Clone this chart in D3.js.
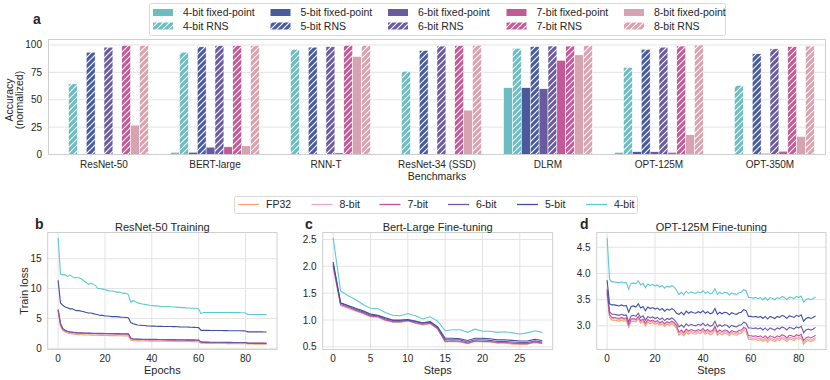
<!DOCTYPE html>
<html>
<head>
<meta charset="utf-8">
<script src="https://cdn.jsdelivr.net/npm/d3@7"></script>
<style>
	body { margin: 0; background: #fff; }
	svg text { font-family: "Liberation Sans", Arial, sans-serif; fill: #262626; }
</style>
</head>
<body>
<svg id="chart" width="830" height="380"></svg>
<script>
// ---------------- panel a data ----------------
var benchmarks = ["ResNet-50", "BERT-large", "RNN-T", "ResNet-34 (SSD)", "DLRM", "OPT-125M", "OPT-350M"];
var bitNames = ["4-bit", "5-bit", "6-bit", "7-bit", "8-bit"];
var fixed4 = [0, 2, 0, 0, 61, 2, 0];
var rns4   = [64.5, 93.4, 96, 76, 97, 79.5, 63];
var fixed5 = [0, 2, 0, 0, 61, 2.5, 0];
var rns5   = [93.4, 98.3, 98, 95, 98.5, 96, 92];
var fixed6 = [0, 6.7, 0, 0, 60, 2.5, 1];
var rns6   = [98, 99.4, 98.4, 99, 99, 98, 96.5];
var fixed7 = [0, 7, 1.5, 0, 86, 2, 3];
var rns7   = [99.7, 99.4, 99.7, 99.5, 99, 99, 98.5];
var fixed8 = [26.8, 7.9, 89.5, 40.5, 91, 18, 16.5];
var rns8   = [99.7, 99.7, 99.7, 99.8, 99.5, 100, 99];
var accTicks = [0, 25, 50, 75, 100];

// ---------------- panel b data (ResNet-50 training, 90 epochs) ----------------
var resnetFP32 = [6.2,3.7,2.95,2.7,2.55,2.45,2.4,2.35,2.31,2.28,
	2.26,2.24,2.22,2.21,2.2,2.19,2.18,2.17,2.16,2.15,
	2.14,2.13,2.12,2.12,2.11,2.1,2.1,2.09,2.08,2.08,
	2.07,1.35,1.27,1.25,1.24,1.23,1.22,1.21,1.21,1.2,
	1.2,1.19,1.19,1.18,1.18,1.17,1.17,1.16,1.16,1.15,
	1.15,1.14,1.14,1.13,1.13,1.12,1.12,1.11,1.11,1.1,
	1.09,0.86,0.83,0.82,0.82,0.81,0.81,0.8,0.8,0.8,
	0.79,0.79,0.78,0.78,0.78,0.77,0.77,0.77,0.76,0.76,
	0.75,0.7,0.7,0.7,0.69,0.69,0.69,0.69,0.69,0.68];
var resnet8 = [6.3,3.9,3.1,2.88,2.74,2.65,2.6,2.55,2.52,2.5,
	2.48,2.46,2.45,2.44,2.43,2.42,2.41,2.4,2.4,2.39,
	2.38,2.38,2.37,2.37,2.36,2.35,2.35,2.34,2.34,2.33,
	2.32,1.6,1.49,1.46,1.44,1.43,1.42,1.41,1.41,1.4,
	1.4,1.39,1.39,1.38,1.38,1.37,1.37,1.36,1.36,1.35,
	1.35,1.34,1.34,1.33,1.33,1.32,1.32,1.31,1.31,1.3,
	1.29,0.99,0.96,0.95,0.95,0.94,0.94,0.93,0.93,0.93,
	0.92,0.92,0.91,0.91,0.91,0.9,0.9,0.9,0.89,0.89,
	0.88,0.8,0.8,0.8,0.79,0.79,0.79,0.79,0.79,0.78];
var resnet7 = [6.4,4.0,3.2,2.95,2.8,2.7,2.65,2.6,2.57,2.55,
	2.53,2.51,2.5,2.49,2.48,2.47,2.46,2.45,2.45,2.44,
	2.43,2.43,2.42,2.42,2.41,2.4,2.4,2.39,2.39,2.38,
	2.37,1.65,1.53,1.5,1.48,1.47,1.46,1.45,1.45,1.44,
	1.44,1.43,1.43,1.42,1.42,1.41,1.41,1.4,1.4,1.39,
	1.39,1.38,1.38,1.37,1.37,1.36,1.36,1.35,1.35,1.34,
	1.33,1.03,0.99,0.98,0.98,0.97,0.97,0.96,0.96,0.96,
	0.95,0.95,0.94,0.94,0.94,0.93,0.93,0.93,0.92,0.92,
	0.91,0.83,0.83,0.83,0.82,0.82,0.82,0.82,0.82,0.81];
var resnet6 = [6.5,4.2,3.3,3.0,2.85,2.75,2.7,2.65,2.62,2.6,
	2.58,2.56,2.55,2.54,2.53,2.52,2.51,2.5,2.5,2.49,
	2.48,2.48,2.47,2.47,2.46,2.45,2.45,2.44,2.44,2.43,
	2.42,1.7,1.58,1.55,1.53,1.52,1.51,1.5,1.5,1.49,
	1.49,1.48,1.48,1.47,1.47,1.46,1.46,1.45,1.45,1.44,
	1.44,1.43,1.43,1.42,1.42,1.41,1.41,1.4,1.4,1.39,
	1.38,1.07,1.03,1.02,1.02,1.01,1.01,1.0,1.0,1.0,
	0.99,0.99,0.98,0.98,0.98,0.97,0.97,0.97,0.96,0.96,
	0.95,0.86,0.86,0.86,0.85,0.85,0.85,0.85,0.85,0.84];
var resnet5 = [11.4,7.6,7.2,6.9,6.8,6.6,6.6,6.4,6.3,6.3,
	6.2,6.1,6.0,5.9,5.9,5.8,5.7,5.6,5.5,5.5,
	5.4,5.4,5.35,5.3,5.3,5.3,5.25,5.2,5.2,5.15,
	5.1,4.3,4.1,4.0,3.9,3.85,3.8,3.8,3.75,3.72,
	3.7,3.7,3.68,3.67,3.66,3.65,3.65,3.64,3.63,3.62,
	3.62,3.6,3.58,3.57,3.56,3.55,3.53,3.52,3.5,3.48,
	3.45,3.0,3.0,3.0,2.99,2.98,2.98,2.97,2.97,2.96,
	2.96,2.95,2.95,2.94,2.94,2.93,2.93,2.92,2.92,2.91,
	2.9,2.75,2.75,2.75,2.74,2.74,2.74,2.74,2.73,2.73];
var resnet4 = [18.5,12.4,12.3,12.3,12.0,12.3,12.0,11.8,11.8,11.8,
	11.6,11.3,11.0,10.7,10.9,10.7,10.5,10.0,10.0,9.9,
	9.8,9.7,9.6,9.6,9.5,9.4,9.4,9.3,9.2,9.2,
	9.0,7.7,8.0,7.8,7.6,7.5,7.4,7.35,7.3,7.2,
	7.15,7.1,7.1,7.05,7.0,7.0,6.95,7.0,6.95,6.9,
	6.9,6.85,6.85,6.8,6.8,6.75,6.75,6.7,6.7,6.7,
	6.6,5.8,6.0,6.0,6.0,6.0,6.0,6.0,6.0,6.0,
	6.0,5.98,5.98,5.98,5.97,5.97,5.96,5.96,5.95,5.95,
	5.9,5.65,5.65,5.65,5.65,5.65,5.64,5.64,5.64,5.64];

// ---------------- panel c data (Bert-Large fine-tuning, 29 steps) ----------------
var bertFP32 = [1.98,1.27,1.22,1.17,1.12,1.06,1.05,0.99,0.96,0.96,0.98,0.94,0.91,0.93,0.83,0.59,0.6,0.59,0.56,0.6,0.59,0.59,0.57,0.57,0.55,0.55,0.55,0.58,0.56];
var bert8 = [2.0,1.28,1.23,1.18,1.13,1.07,1.06,1.0,0.97,0.97,0.99,0.95,0.92,0.94,0.84,0.6,0.6,0.6,0.57,0.6,0.6,0.6,0.58,0.58,0.56,0.56,0.56,0.59,0.57];
var bert7 = [2.02,1.29,1.24,1.18,1.13,1.07,1.06,1.0,0.97,0.97,0.99,0.95,0.92,0.94,0.84,0.6,0.61,0.6,0.57,0.61,0.6,0.6,0.58,0.58,0.57,0.56,0.56,0.59,0.57];
var bert6 = [2.05,1.31,1.26,1.2,1.15,1.09,1.08,1.02,0.99,0.99,1.0,0.97,0.94,0.96,0.86,0.63,0.63,0.63,0.59,0.63,0.63,0.62,0.6,0.6,0.59,0.58,0.58,0.61,0.59];
var bert5 = [2.08,1.32,1.27,1.22,1.17,1.11,1.09,1.04,1.0,1.0,1.01,0.98,0.95,0.97,0.87,0.66,0.66,0.65,0.62,0.66,0.66,0.65,0.63,0.63,0.62,0.61,0.61,0.64,0.62];
var bert4 = [2.53,1.54,1.45,1.38,1.29,1.22,1.21,1.14,1.09,1.08,1.12,1.08,1.02,1.06,0.98,0.8,0.82,0.82,0.77,0.83,0.79,0.79,0.77,0.78,0.76,0.74,0.76,0.8,0.77];

// ---------------- panel d data (OPT-125M fine-tuning, 88 steps) ----------------
var optFP32 = [3.60,3.16,3.11,3.11,3.10,3.09,3.11,3.09,3.10,2.97,
	3.08,3.09,3.07,3.13,3.05,3.08,3.00,3.07,3.04,3.06,
	3.03,3.05,3.01,3.04,2.99,3.03,3.01,3.04,3.01,2.95,
	2.82,2.86,2.81,2.88,2.84,2.87,2.85,2.84,2.87,2.85,
	2.89,2.84,2.87,2.83,2.85,2.93,2.82,2.86,2.83,2.86,
	2.85,2.81,2.85,2.83,2.82,2.85,2.86,2.91,2.89,2.74,
	2.74,2.73,2.74,2.72,2.74,2.70,2.74,2.69,2.74,2.72,
	2.70,2.74,2.72,2.76,2.74,2.70,2.75,2.74,2.72,2.76,
	2.74,2.77,2.65,2.70,2.72,2.70,2.72,2.75];
var opt8 = [3.63,3.19,3.14,3.14,3.13,3.12,3.14,3.12,3.13,3.00,
	3.11,3.12,3.10,3.16,3.08,3.11,3.03,3.10,3.07,3.09,
	3.06,3.08,3.04,3.07,3.02,3.06,3.04,3.07,3.04,2.98,
	2.85,2.89,2.84,2.91,2.87,2.90,2.88,2.87,2.90,2.88,
	2.92,2.87,2.90,2.86,2.88,2.96,2.85,2.89,2.86,2.89,
	2.88,2.84,2.88,2.86,2.85,2.88,2.89,2.94,2.92,2.77,
	2.77,2.76,2.77,2.75,2.77,2.73,2.77,2.72,2.77,2.75,
	2.73,2.77,2.75,2.79,2.77,2.73,2.78,2.77,2.75,2.79,
	2.77,2.80,2.68,2.73,2.75,2.73,2.75,2.78];
var opt7 = [3.66,3.22,3.16,3.16,3.15,3.14,3.16,3.14,3.15,3.02,
	3.13,3.14,3.12,3.18,3.10,3.13,3.05,3.12,3.09,3.11,
	3.08,3.10,3.06,3.09,3.04,3.08,3.06,3.09,3.06,3.00,
	2.88,2.92,2.87,2.94,2.90,2.93,2.91,2.90,2.93,2.91,
	2.95,2.90,2.93,2.89,2.91,2.99,2.88,2.92,2.89,2.92,
	2.91,2.87,2.91,2.89,2.88,2.91,2.92,2.97,2.95,2.81,
	2.81,2.80,2.81,2.79,2.81,2.77,2.81,2.76,2.81,2.79,
	2.77,2.81,2.79,2.83,2.81,2.77,2.82,2.81,2.79,2.83,
	2.81,2.84,2.72,2.77,2.79,2.77,2.79,2.82];
var opt6 = [3.70,3.27,3.22,3.22,3.21,3.20,3.22,3.20,3.21,3.08,
	3.19,3.20,3.18,3.24,3.16,3.19,3.11,3.18,3.15,3.17,
	3.14,3.16,3.12,3.15,3.10,3.14,3.12,3.15,3.12,3.06,
	2.98,3.02,2.97,3.04,3.00,3.03,3.01,3.00,3.03,3.01,
	3.05,3.00,3.03,2.99,3.01,3.09,2.98,3.02,2.99,3.02,
	3.01,2.97,3.01,2.99,2.98,3.01,3.02,3.07,3.05,2.96,
	2.96,2.95,2.96,2.94,2.96,2.92,2.96,2.91,2.96,2.94,
	2.92,2.96,2.94,2.98,2.96,2.92,2.97,2.96,2.94,2.98,
	2.96,2.99,2.87,2.92,2.94,2.92,2.94,2.97];
var opt5 = [3.87,3.42,3.40,3.40,3.39,3.38,3.40,3.38,3.39,3.26,
	3.37,3.38,3.36,3.42,3.34,3.37,3.29,3.36,3.33,3.35,
	3.32,3.34,3.30,3.33,3.28,3.32,3.30,3.33,3.30,3.24,
	3.22,3.26,3.21,3.28,3.24,3.27,3.25,3.24,3.27,3.25,
	3.29,3.24,3.27,3.23,3.25,3.33,3.22,3.26,3.23,3.26,
	3.25,3.21,3.25,3.23,3.22,3.25,3.26,3.31,3.29,3.18,
	3.18,3.17,3.18,3.16,3.18,3.14,3.18,3.13,3.18,3.16,
	3.14,3.18,3.16,3.20,3.18,3.14,3.19,3.18,3.16,3.20,
	3.18,3.21,3.09,3.14,3.16,3.14,3.16,3.19];
var opt4 = [4.68,3.89,3.84,3.84,3.83,3.82,3.84,3.82,3.83,3.70,
	3.81,3.82,3.80,3.86,3.78,3.81,3.73,3.80,3.77,3.79,
	3.76,3.78,3.74,3.77,3.72,3.76,3.74,3.77,3.74,3.68,
	3.60,3.64,3.59,3.66,3.62,3.65,3.63,3.62,3.65,3.63,
	3.67,3.62,3.65,3.61,3.63,3.71,3.60,3.64,3.61,3.64,
	3.63,3.59,3.63,3.61,3.60,3.63,3.64,3.69,3.67,3.54,
	3.54,3.53,3.54,3.52,3.54,3.50,3.54,3.49,3.54,3.52,
	3.50,3.54,3.52,3.56,3.54,3.50,3.55,3.54,3.52,3.56,
	3.54,3.57,3.45,3.50,3.52,3.50,3.52,3.55];

var lineNames = ["FP32", "8-bit", "7-bit", "6-bit", "5-bit", "4-bit"];

// colours
var barColors = ["#6bbdc1", "#4a5b9b", "#6a5b9c", "#c05b98", "#d7a3b0"];
var lineColors = ["#f4a46c", "#eaa8c6", "#c8509c", "#6c5aa8", "#3e50a2", "#5ec8d3"];
var gridColor = "#e3e3e3";
var spineColor = "#cfcfcf";

var svg = d3.select("#chart");
var defs = svg.append("defs");

// hatch patterns for RNS bars
barColors.forEach(function(c, i) {
	var p = defs.append("pattern")
		.attr("id", "hatch" + i)
		.attr("patternUnits", "userSpaceOnUse")
		.attr("width", 6)
		.attr("height", 6);
	p.append("rect").attr("width", 6).attr("height", 6).attr("fill", c);
	p.append("path")
		.attr("d", "M-1,1 l2,-2 M0,6 l6,-6 M5,7 l2,-2")
		.attr("stroke", "#fff")
		.attr("stroke-width", 1.1);
});

// ------------------------------------------------------------------------
//		Panel a: grouped bars
// ------------------------------------------------------------------------
var fixedSets = [fixed4, fixed5, fixed6, fixed7, fixed8];
var rnsSets = [rns4, rns5, rns6, rns7, rns8];

var barData = [];
benchmarks.forEach(function(b, bi) {
	for (var k = 0; k < 5; k++) {
		barData.push({bench: b, slot: k * 2, bit: k, rns: false, value: fixedSets[k][bi]});
		barData.push({bench: b, slot: k * 2 + 1, bit: k, rns: true, value: rnsSets[k][bi]});
	}
});

var xA = d3.scaleBand().domain(benchmarks).range([48.5, 825.5]);
var inner = d3.scaleBand().domain(d3.range(10)).range([0.1 * xA.bandwidth(), 0.9 * xA.bandwidth()]);
var yA = d3.scaleLinear().domain([0, 105]).range([154.5, 39.5]);

var gA = svg.append("g");
gA.selectAll(".gridA")
	.data(accTicks)
	.enter().append("line")
		.attr("x1", 48.5).attr("x2", 825.5)
		.attr("y1", function(d) { return yA(d); })
		.attr("y2", function(d) { return yA(d); })
		.attr("stroke", gridColor)
		.attr("stroke-width", 1);

gA.selectAll(".bar")
	.data(barData)
	.enter().append("rect")
		.attr("x", function(d) { return xA(d.bench) + inner(d.slot); })
		.attr("width", inner.bandwidth())
		.attr("y", function(d) { return yA(d.value); })
		.attr("height", function(d) { return yA(0) - yA(d.value); })
		.attr("fill", function(d) { return d.rns ? "url(#hatch" + d.bit + ")" : barColors[d.bit]; })
		.attr("stroke", "#fff")
		.attr("stroke-width", 0.5);

gA.append("rect")
	.attr("x", 48.5).attr("y", 39.5)
	.attr("width", 777).attr("height", 115)
	.attr("fill", "none")
	.attr("stroke", spineColor);

gA.selectAll(".ytA")
	.data(accTicks)
	.enter().append("text")
		.attr("x", 42)
		.attr("y", function(d) { return yA(d); })
		.attr("dy", "0.35em")
		.attr("text-anchor", "end")
		.style("font-size", "10px")
		.text(function(d) { return d; });

gA.selectAll(".xtA")
	.data(benchmarks)
	.enter().append("text")
		.attr("x", function(d) { return xA(d) + xA.bandwidth() / 2; })
		.attr("y", 168)
		.attr("text-anchor", "middle")
		.style("font-size", "10px")
		.text(function(d) { return d; });

gA.append("text")
	.attr("x", 437).attr("y", 179.5)
	.attr("text-anchor", "middle")
	.style("font-size", "10.5px")
	.text("Benchmarks");

gA.append("text")
	.attr("transform", "translate(12.5,100) rotate(-90)")
	.attr("text-anchor", "middle")
	.style("font-size", "10.5px")
	.text("Accuracy");
gA.append("text")
	.attr("transform", "translate(22.5,100) rotate(-90)")
	.attr("text-anchor", "middle")
	.style("font-size", "10.5px")
	.text("(normalized)");

gA.append("text")
	.attr("x", 33).attr("y", 24)
	.style("font-size", "14px")
	.style("font-weight", "bold")
	.text("a");

// legend for panel a
var legA = svg.append("g");
legA.append("rect")
	.attr("x", 149.5).attr("y", 3.5)
	.attr("width", 576).attr("height", 32)
	.attr("rx", 2)
	.attr("fill", "#fff")
	.attr("stroke", "#d9d9d9");
var legColX = [153, 270.5, 388, 506.5, 624];
bitNames.forEach(function(name, i) {
	[false, true].forEach(function(isRns, r) {
		var yy = r == 0 ? 12.5 : 26;
		legA.append("rect")
			.attr("x", legColX[i]).attr("y", yy - 3.5)
			.attr("width", 20).attr("height", 7)
			.attr("fill", isRns ? "url(#hatch" + i + ")" : barColors[i]);
		legA.append("text")
			.attr("x", legColX[i] + 30).attr("y", yy)
			.attr("dy", "0.35em")
			.style("font-size", "10.5px")
			.text(name + (isRns ? " RNS" : " fixed-point"));
	});
});

// ------------------------------------------------------------------------
//		Panels b, c, d: training curves
// ------------------------------------------------------------------------
function padDomain(series) {
	var all = d3.merge(series);
	var lo = d3.min(all), hi = d3.max(all);
	var m = (hi - lo) * 0.05;
	return [lo - m, hi + m];
}

function drawPanel(cfg) {
	var n = cfg.series[0].length;
	var steps = d3.range(n);
	var xm = (n - 1) * 0.05;
	var x = d3.scaleLinear().domain([-xm, n - 1 + xm]).range([cfg.left, cfg.right]);
	var y = d3.scaleLinear().domain(padDomain(cfg.series)).range([349.5, 232.5]);
	var g = svg.append("g");

	g.selectAll(".gx")
		.data(cfg.xTicks)
		.enter().append("line")
			.attr("x1", function(d) { return x(d); })
			.attr("x2", function(d) { return x(d); })
			.attr("y1", 232.5).attr("y2", 349.5)
			.attr("stroke", gridColor);
	g.selectAll(".gy")
		.data(cfg.yTicks)
		.enter().append("line")
			.attr("x1", cfg.left).attr("x2", cfg.right)
			.attr("y1", function(d) { return y(d); })
			.attr("y2", function(d) { return y(d); })
			.attr("stroke", gridColor);

	var line = d3.line()
		.x(function(d, i) { return x(steps[i]); })
		.y(function(d) { return y(d); });

	cfg.series.forEach(function(s, i) {
		g.append("path")
			.datum(s)
			.attr("d", line)
			.attr("fill", "none")
			.attr("stroke", lineColors[i])
			.attr("stroke-width", 1.1);
	});

	g.append("rect")
		.attr("x", cfg.left).attr("y", 232.5)
		.attr("width", cfg.right - cfg.left).attr("height", 117)
		.attr("fill", "none")
		.attr("stroke", spineColor);

	g.selectAll(".tx")
		.data(cfg.xTicks)
		.enter().append("text")
			.attr("x", function(d) { return x(d); })
			.attr("y", 362)
			.attr("text-anchor", "middle")
			.style("font-size", "10px")
			.text(function(d) { return d; });
	g.selectAll(".ty")
		.data(cfg.yTicks)
		.enter().append("text")
			.attr("x", cfg.left - 6)
			.attr("y", function(d) { return y(d); })
			.attr("dy", "0.35em")
			.attr("text-anchor", "end")
			.style("font-size", "10px")
			.text(cfg.yFormat);

	g.append("text")
		.attr("x", (cfg.left + cfg.right) / 2).attr("y", 231)
		.attr("text-anchor", "middle")
		.style("font-size", "11px")
		.text(cfg.title);
	g.append("text")
		.attr("x", (cfg.left + cfg.right) / 2).attr("y", 374)
		.attr("text-anchor", "middle")
		.style("font-size", "11px")
		.text(cfg.xLabel);
	if (cfg.yLabel) {
		g.append("text")
			.attr("transform", "translate(" + (cfg.left - 20) + ",291) rotate(-90)")
			.attr("text-anchor", "middle")
			.style("font-size", "11px")
			.text(cfg.yLabel);
	}
	g.append("text")
		.attr("x", cfg.letterX).attr("y", 229)
		.style("font-size", "14px")
		.style("font-weight", "bold")
		.text(cfg.letter);
}

drawPanel({
	left: 47.7, right: 277,
	series: [resnetFP32, resnet8, resnet7, resnet6, resnet5, resnet4],
	xTicks: [0, 20, 40, 60, 80],
	yTicks: [0, 5, 10, 15],
	yFormat: function(d) { return d; },
	title: "ResNet-50 Training",
	xLabel: "Epochs",
	yLabel: "Train loss",
	letter: "b", letterX: 35
});
drawPanel({
	left: 322.7, right: 552.7,
	series: [bertFP32, bert8, bert7, bert6, bert5, bert4],
	xTicks: [0, 5, 10, 15, 20, 25],
	yTicks: [0.5, 1.0, 1.5, 2.0, 2.5],
	yFormat: d3.format(".1f"),
	title: "Bert-Large Fine-tuning",
	xLabel: "Steps",
	letter: "c", letterX: 305
});
drawPanel({
	left: 596.7, right: 826,
	series: [optFP32, opt8, opt7, opt6, opt5, opt4],
	xTicks: [0, 20, 40, 60, 80],
	yTicks: [3.0, 3.5, 4.0, 4.5],
	yFormat: d3.format(".1f"),
	title: "OPT-125M Fine-tuning",
	xLabel: "Steps",
	letter: "d", letterX: 580
});

// legend for the training curves
var legB = svg.append("g");
legB.append("rect")
	.attr("x", 234.5).attr("y", 196.5)
	.attr("width", 403).attr("height", 17)
	.attr("rx", 2)
	.attr("fill", "#fff")
	.attr("stroke", "#d9d9d9");
var legLineX = [238, 311.5, 379.5, 448, 517, 586];
lineNames.forEach(function(name, i) {
	legB.append("line")
		.attr("x1", legLineX[i]).attr("x2", legLineX[i] + 21)
		.attr("y1", 204.5).attr("y2", 204.5)
		.attr("stroke", lineColors[i])
		.attr("stroke-width", 1.3);
	legB.append("text")
		.attr("x", legLineX[i] + 28).attr("y", 204.5)
		.attr("dy", "0.35em")
		.style("font-size", "10.5px")
		.text(name);
});
</script>
</body>
</html>
